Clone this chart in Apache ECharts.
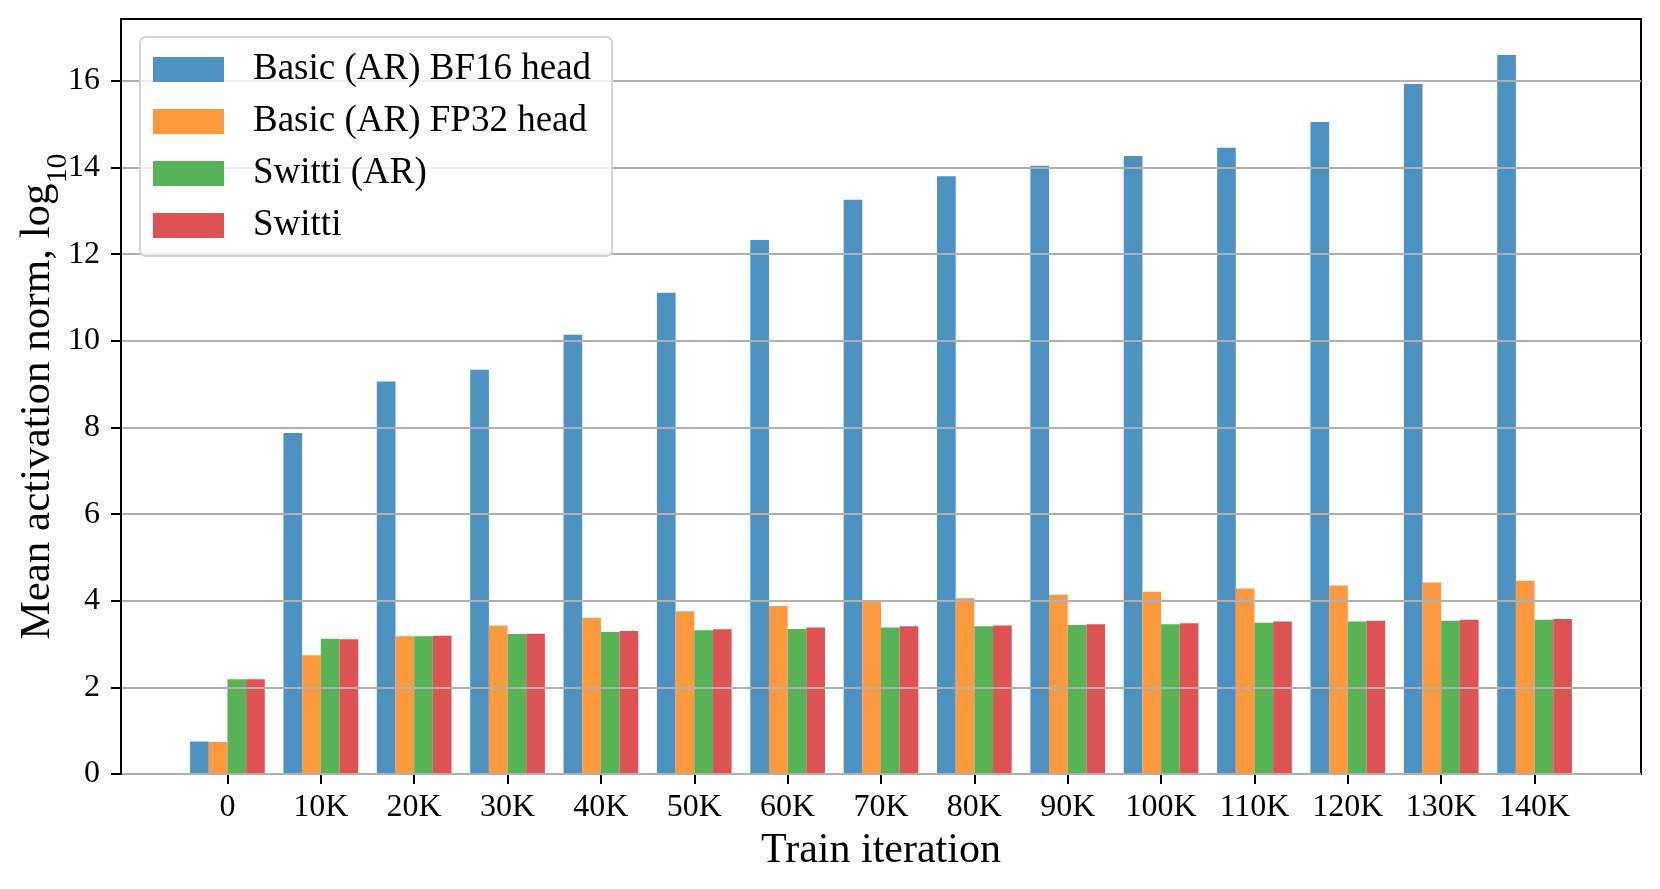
<!DOCTYPE html>
<html>
<head>
<meta charset="utf-8">
<script src="https://cdn.jsdelivr.net/npm/echarts@6/dist/echarts.min.js"></script>
<style>
html,body{margin:0;padding:0;background:#fff;}
#c{width:1660px;height:889px;}
</style>
</head>
<body>
<div id="c"></div>
<script>
const categories = ['0','10K','20K','30K','40K','50K','60K','70K','80K','90K','100K','110K','120K','130K','140K'];
const seriesNames = ['Basic (AR) BF16 head','Basic (AR) FP32 head','Switti (AR)','Switti'];
const bf16 = [0.75, 7.87, 9.06, 9.33, 10.14, 11.11, 12.33, 13.26, 13.80, 14.04, 14.27, 14.46, 15.05, 15.93, 16.60];
const fp32 = [0.74, 2.74, 3.18, 3.43, 3.61, 3.76, 3.88, 3.98, 4.06, 4.14, 4.21, 4.28, 4.35, 4.42, 4.46];
const swittiAR = [2.19, 3.12, 3.18, 3.23, 3.28, 3.32, 3.35, 3.38, 3.41, 3.44, 3.46, 3.49, 3.52, 3.54, 3.56];
const switti = [2.19, 3.11, 3.19, 3.24, 3.30, 3.34, 3.38, 3.41, 3.43, 3.46, 3.48, 3.52, 3.54, 3.56, 3.58];
const yTicks = [0,2,4,6,8,10,12,14,16];

const colors = ['#4c92c3','#ff993e','#56b356','#de5253'];
const font = 'Liberation Serif';
const allData = [bf16, fp32, swittiAR, switti];
const xIdx = categories.map((_, i) => i);

const chart = echarts.init(document.getElementById('c'), null, {renderer:'canvas'});
chart.setOption({
  animation: false,
  backgroundColor: '#fff',
  textStyle: {fontFamily: font, color: '#000'},
  grid: {left: 121, right: 19, top: 19, bottom: 115, show: true, borderColor: '#000', borderWidth: 2, backgroundColor: 'transparent'},
  legend: {
    orient: 'vertical', left: 140, top: 37,
    data: seriesNames,
    icon: 'rect', itemWidth: 71, itemHeight: 25, itemGap: 15,
    padding: [14, 21, 12, 13],
    backgroundColor: 'rgba(255,255,255,0.8)',
    borderColor: '#d4d4d4', borderWidth: 2, borderRadius: 6,
    textStyle: {fontFamily: font, fontSize: 37, color: '#000', lineHeight: 25, padding: [0,0,0,24]}
  },
  xAxis: {
    type: 'value', min: -1.14, max: 15.14,
    name: 'Train iteration', nameLocation: 'middle', nameGap: 56, nameMoveOverlap: false,
    nameTextStyle: {fontFamily: font, fontSize: 42, color: '#000'},
    axisLine: {show: true, onZero: false, lineStyle: {color: '#000', width: 2}},
    axisTick: {show: true, length: 10, lineStyle: {color: '#000', width: 2}, customValues: xIdx},
    axisLabel: {fontFamily: font, fontSize: 32, color: '#000', margin: 18, customValues: xIdx,
      formatter: v => categories[Math.round(v)] ?? ''},
    splitLine: {show: false}
  },
  yAxis: {
    type: 'value', min: 0, max: 17.43, z: 3,
    name: 'Mean activation norm, log{sub|10}', nameLocation: 'middle', nameGap: 62, nameRotate: 90, nameMoveOverlap: false,
    nameTextStyle: {fontFamily: font, fontSize: 43, color: '#000',
      rich: {sub: {fontFamily: font, fontSize: 30, color: '#000', verticalAlign: 'bottom', padding: [0,0,-14,0]}}},
    axisLine: {show: true, onZero: false, lineStyle: {color: '#000', width: 2}},
    axisTick: {show: true, length: 10, lineStyle: {color: '#000', width: 2}, customValues: yTicks},
    axisLabel: {fontFamily: font, fontSize: 32, color: '#000', margin: 21, customValues: yTicks},
    splitLine: {show: true, lineStyle: {color: '#b0b0b0', width: 2}}
  },
  series: seriesNames.map((n, k) => ({
    name: n, type: 'bar',
    data: allData[k].map((v, i) => [i, v]),
    barWidth: '20%', barGap: '0%',
    itemStyle: {color: colors[k]}
  }))
});
</script>
</body>
</html>
